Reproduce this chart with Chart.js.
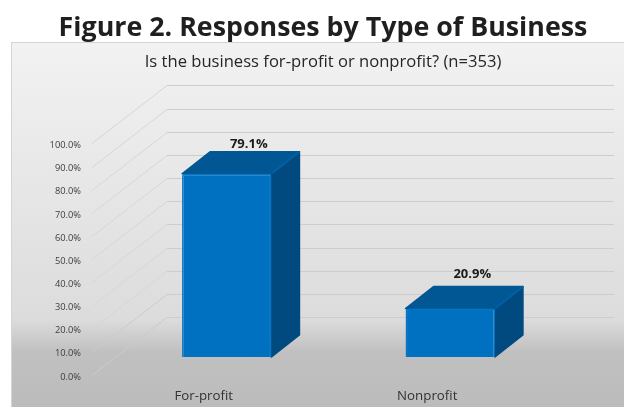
<!DOCTYPE html>
<html><head><meta charset="utf-8">
<script src="https://cdn.jsdelivr.net/npm/chart.js@4"></script>
<style>
html,body{margin:0;padding:0;background:#fff;width:624px;height:407px;overflow:hidden}
#panel{position:absolute;left:11px;top:42px;width:613px;height:365px;box-sizing:border-box;border-left:1px solid #d4d4d4;border-top:1px solid #d4d4d4;
background:linear-gradient(180deg,#f2f2f2 0%,#dcdcdc 76%,#c0c0c0 85%,#bcbcbc 100%)}
#wrap{position:absolute;left:0;top:0;width:624px;height:407px}
</style></head><body>
<div id="panel"></div>
<div id="wrap"><canvas id="c" width="624" height="407"></canvas></div>
<script>
const categories = ["For-profit", "Nonprofit"];
const shares = [79.1, 20.9];
const valueLabels = ["79.1%", "20.9%"];
const tickValues = [0, 10, 20, 30, 40, 50, 60, 70, 80, 90, 100];
const tickLabels = ["0.0%", "10.0%", "20.0%", "30.0%", "40.0%", "50.0%", "60.0%", "70.0%", "80.0%", "90.0%", "100.0%"];
const chartTitle = "Figure 2. Responses by Type of Business";
const chartSubtitle = "Is the business for-profit or nonprofit? (n=353)";

const WALL = {dx: 75, dy: -58};
const BAR_SHIFT = {dx: 23, dy: -18};
const BAR_DEPTH = {dx: 28, dy: -22};
const LABEL_GAP = [7.5, 12.5];

const floor3d = {
  id: 'floor3d',
  beforeDatasetsDraw(chart) {
    const {ctx, scales: {x, y}} = chart;
    ctx.save();
    tickValues.forEach(v => {
      const py = Math.round(y.getPixelForValue(v)) + 0.5;
      const bx = x.left + WALL.dx, by = py + WALL.dy;
      ctx.lineWidth = 1;
      ctx.strokeStyle = v <= 10 ? '#cbcbcb' : '#d6d6d6';
      ctx.beginPath(); ctx.moveTo(x.left, py); ctx.lineTo(bx, by); ctx.stroke();
      ctx.strokeStyle = '#cdcdcd';
      ctx.beginPath(); ctx.moveTo(bx, by); ctx.lineTo(x.right + WALL.dx, by); ctx.stroke();
    });
    ctx.restore();
  },
  beforeDatasetDraw(chart, args) {
    const {ctx} = chart;
    ctx.save();
    ctx.translate(BAR_SHIFT.dx, BAR_SHIFT.dy);
    args.meta.data.forEach(b => {
      const l = b.x - b.width / 2, r = b.x + b.width / 2, t = b.y, bt = b.base;
      const {dx, dy} = BAR_DEPTH;
      ctx.lineJoin = 'round';
      ctx.lineWidth = 1.5;
      ctx.fillStyle = ctx.strokeStyle = '#004a80';
      ctx.beginPath(); ctx.moveTo(r, t); ctx.lineTo(r + dx, t + dy); ctx.lineTo(r + dx, bt + dy); ctx.lineTo(r, bt); ctx.closePath(); ctx.fill(); ctx.stroke();
      ctx.fillStyle = ctx.strokeStyle = '#005793';
      ctx.beginPath(); ctx.moveTo(l, t); ctx.lineTo(l + dx, t + dy); ctx.lineTo(r + dx, t + dy); ctx.lineTo(r, t); ctx.closePath(); ctx.fill(); ctx.stroke();
      ctx.strokeStyle = '#0060a4'; ctx.lineWidth = 2;
      ctx.beginPath(); ctx.moveTo(r + 1, t - 1); ctx.lineTo(r + dx, t + dy); ctx.stroke();
    });
  },
  afterDatasetDraw(chart, args) {
    const {ctx} = chart;
    ctx.restore();
    ctx.save();
    ctx.font = 'bold 13px "Open Sans"';
    ctx.fillStyle = '#1a1a1a';
    ctx.textAlign = 'center';
    ctx.textBaseline = 'middle';
    args.meta.data.forEach((b, i) => {
      ctx.fillText(valueLabels[i], b.x + BAR_SHIFT.dx + 22, b.y + BAR_SHIFT.dy + BAR_DEPTH.dy - LABEL_GAP[i]);
    });
    ctx.restore();
  }
};

new Chart(document.getElementById('c'), {
  type: 'bar',
  data: {labels: categories, datasets: [{
    data: shares,
    backgroundColor: '#0070c0',
    borderColor: '#0675c6',
    borderWidth: 1.5,
    borderRadius: 2,
    barPercentage: 0.4,
    categoryPercentage: 1
  }]},
  plugins: [floor3d],
  options: {
    responsive: false,
    animation: false,
    layout: {padding: {left: 22, right: 0, top: 0, bottom: 0}},
    plugins: {
      legend: {display: false},
      tooltip: {enabled: false},
      title: {display: true, text: chartTitle, color: '#1f1f1f', font: {family: '"Open Sans"', size: 26.8, weight: 'bold', lineHeight: 1}, padding: {top: 15, bottom: 12}},
      subtitle: {display: true, text: chartSubtitle, color: '#262626', font: {family: '"Open Sans"', size: 16.6, weight: 'normal', lineHeight: 1}, padding: {top: 0, bottom: 73}}
    },
    scales: {
      x: {
        grid: {display: false}, border: {display: false},
        ticks: {color: '#333', font: {family: '"Open Sans"', size: 13.3}, padding: 5, maxRotation: 0},
        afterFit(s) { s.height = 32; }
      },
      y: {
        min: 0, max: 100,
        grid: {display: false}, border: {display: false},
        afterBuildTicks(s) { s.ticks = tickValues.map(v => ({value: v})); },
        ticks: {color: '#3c3c3c', font: {family: '"Open Sans"', size: 9.3}, padding: 3, labelOffset: 2,
          callback: (v) => tickLabels[tickValues.indexOf(v)]},
        afterFit(s) { s.width = 70; }
      },
      rightGap: {
        position: 'right', axis: 'y',
        grid: {display: false}, border: {display: false},
        ticks: {display: false},
        afterFit(s) { s.width = 85; }
      }
    }
  }
});
</script>
</body></html>
